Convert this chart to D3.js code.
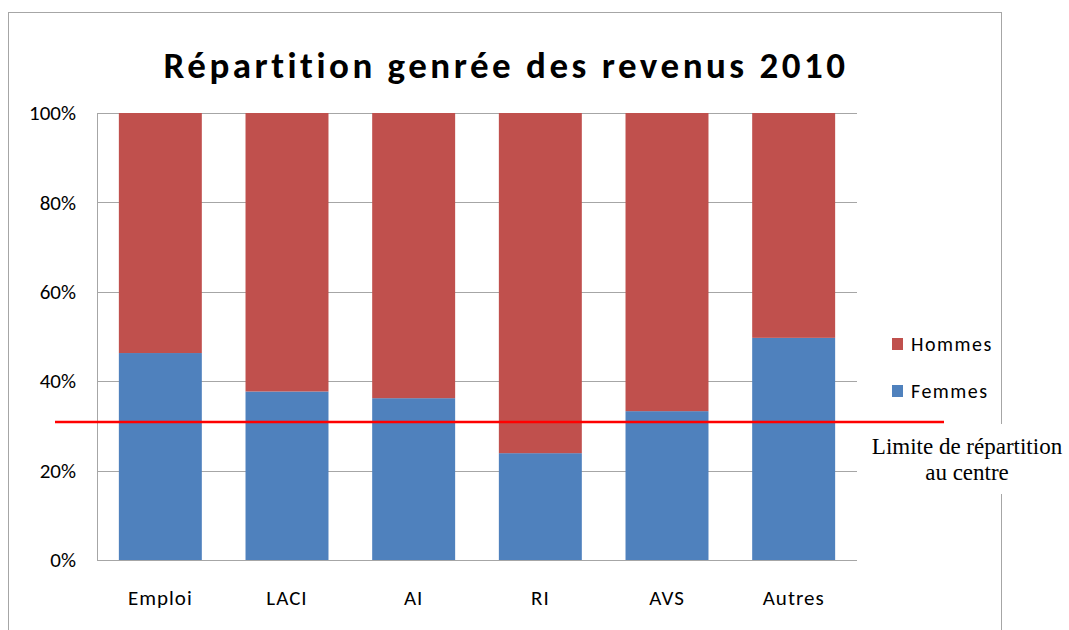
<!DOCTYPE html>
<html>
<head>
<meta charset="utf-8">
<script src="https://cdn.jsdelivr.net/npm/d3@7"></script>
<style>
  body { margin: 0; background: #fff; }
  svg { display: block; }
</style>
</head>
<body>
<svg id="chart" width="1069" height="630"></svg>
<script>
const categories = ['Emploi', 'LACI', 'AI', 'RI', 'AVS', 'Autres']
const femmes = [0.463, 0.377, 0.362, 0.239, 0.333, 0.497]
const hommes = [0.537, 0.623, 0.638, 0.761, 0.667, 0.503]
const yTicks = [0, 0.2, 0.4, 0.6, 0.8, 1]
const limite = 0.309

const COLOR_FEMMES = '#4f81bd'
const COLOR_HOMMES = '#c0504d'
const FONT = "Carlito, 'Liberation Sans Narrow', Lato, sans-serif"

const svg = d3.select('#chart')
const margin = {left: 97, right: 212, top: 113, bottom: 70}
const width = 1069 - margin.left - margin.right
const height = 630 - margin.top - margin.bottom

// outer frame
svg.append('rect')
    .attr('x', 8.5).attr('y', 12.5)
    .attr('width', 993).attr('height', 640)
    .attr('fill', 'none')
    .attr('stroke', '#a6a6a6')
    .attr('stroke-width', 1)

svg.append('text')
    .attr('x', 506).attr('y', 78)
    .attr('text-anchor', 'middle')
    .attr('font-family', FONT)
    .attr('font-weight', 'bold')
    .attr('font-size', 37)
    .attr('letter-spacing', 3.5)
    .text('Répartition genrée des revenus 2010')

const g = svg.append('g').attr('transform', `translate(${margin.left},${margin.top})`)

const x = d3.scaleBand().domain(categories).range([0, width]).paddingInner(0.345).paddingOuter(0.1725)
const y = d3.scaleLinear().domain([0, 1]).range([height, 0])

// gridlines
g.selectAll('.grid')
    .data(yTicks)
    .enter().append('line')
    .attr('x1', 0).attr('x2', width)
    .attr('y1', d => Math.round(y(d)) + 0.5)
    .attr('y2', d => Math.round(y(d)) + 0.5)
    .attr('stroke', '#a6a6a6')

g.append('line')
    .attr('x1', 0.5).attr('x2', 0.5)
    .attr('y1', 0).attr('y2', height)
    .attr('stroke', '#a6a6a6')

const yAxis = g.append('g')
    .call(d3.axisLeft(y).tickValues(yTicks).tickFormat(d3.format('.0%')).tickSize(0).tickPadding(21))
yAxis.select('.domain').remove()
yAxis.selectAll('text')
    .attr('font-family', FONT)
    .attr('font-size', 21)
    .attr('fill', '#000')

const stacked = categories.map((c, i) => ({cat: c, f: femmes[i], h: hommes[i]}))

g.selectAll('.femmes')
    .data(stacked)
    .enter().append('rect')
    .attr('x', d => x(d.cat))
    .attr('width', x.bandwidth())
    .attr('y', d => y(d.f))
    .attr('height', d => y(0) - y(d.f))
    .attr('fill', COLOR_FEMMES)

g.selectAll('.hommes')
    .data(stacked)
    .enter().append('rect')
    .attr('x', d => x(d.cat))
    .attr('width', x.bandwidth())
    .attr('y', d => y(d.f + d.h))
    .attr('height', d => y(d.f) - y(d.f + d.h))
    .attr('fill', COLOR_HOMMES)

const xAxis = g.append('g')
    .attr('transform', `translate(0,${height})`)
    .call(d3.axisBottom(x).tickSize(0).tickPadding(30))
xAxis.select('.domain').remove()
xAxis.selectAll('text')
    .attr('font-family', FONT)
    .attr('font-size', 21)
    .attr('letter-spacing', 1)
    .attr('fill', '#000')

// legend
const legend = svg.append('g').attr('transform', 'translate(892,0)')
const legendItems = [{name: 'Hommes', color: COLOR_HOMMES, y: 344}, {name: 'Femmes', color: COLOR_FEMMES, y: 391}]
legendItems.forEach(item => {
    legend.append('rect')
        .attr('x', 0).attr('y', item.y - 6)
        .attr('width', 11).attr('height', 12)
        .attr('fill', item.color)
    legend.append('text')
        .attr('x', 19).attr('y', item.y)
        .attr('dy', '0.35em')
        .attr('font-family', FONT)
        .attr('font-size', 20)
        .attr('letter-spacing', 1.5)
        .text(item.name)
})

// annotation box over the frame
svg.append('rect')
    .attr('x', 862).attr('y', 424)
    .attr('width', 207).attr('height', 70)
    .attr('fill', '#fff')

svg.append('line')
    .attr('x1', 55).attr('x2', 944)
    .attr('y1', margin.top + y(limite))
    .attr('y2', margin.top + y(limite))
    .attr('stroke', '#ff0000')
    .attr('stroke-width', 2.5)

const note = svg.append('text')
    .attr('text-anchor', 'middle')
    .attr('font-family', "'Liberation Serif', 'Times New Roman', serif")
    .attr('font-size', 23)
note.append('tspan').attr('x', 967).attr('y', 454).text('Limite de répartition')
note.append('tspan').attr('x', 967).attr('y', 480).text('au centre')
</script>
</body>
</html>
